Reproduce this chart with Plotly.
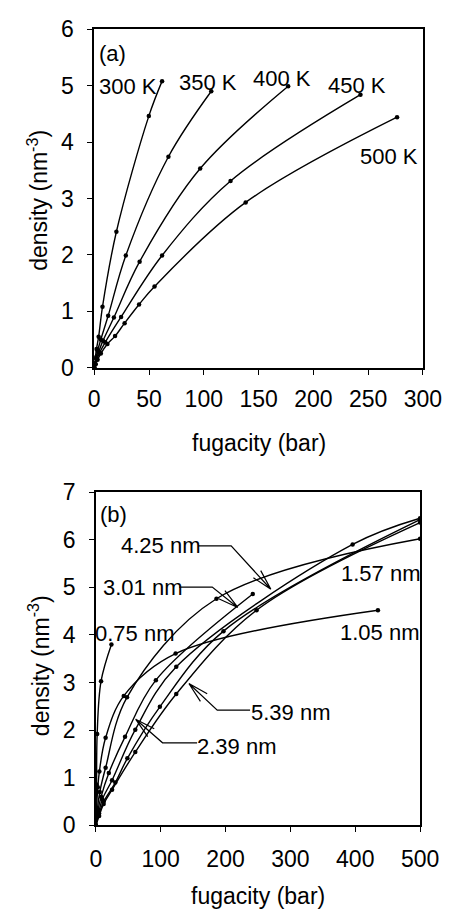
import math
import plotly.graph_objects as go

W, H = 463, 922

# ---------------- Panel (a): density vs fugacity at several temperatures
fug_300K = [0, 0.4, 1, 2, 4, 7.5, 20.2, 49.8, 61.9]
rho_300K = [0, 0.08, 0.18, 0.33, 0.55, 1.08, 2.41, 4.46, 5.08]
fug_350K = [0, 0.6, 1.5, 3, 6, 12.7, 28.8, 67.7, 106.8]
rho_350K = [0, 0.07, 0.17, 0.30, 0.50, 0.92, 1.99, 3.74, 4.90]
fug_400K = [0, 0.8, 2, 4, 8, 17.9, 41.4, 96.7, 177]
rho_400K = [0, 0.07, 0.16, 0.28, 0.48, 0.89, 1.88, 3.53, 4.99]
fug_450K = [0, 1, 2.5, 5, 10, 24.5, 61.9, 124.4, 243]
rho_450K = [0, 0.06, 0.15, 0.27, 0.45, 0.90, 1.99, 3.31, 4.84]
fug_500K = [0, 1.2, 3, 6, 12, 19, 27.7, 40.9, 55, 138.2, 276.4]
rho_500K = [0, 0.06, 0.14, 0.25, 0.42, 0.56, 0.79, 1.12, 1.44, 2.93, 4.44]

# ---------------- Panel (b): density vs fugacity for several pore widths
fug_075 = [0, 0.3, 1, 2, 8, 24]
rho_075 = [0, 0.36, 0.86, 1.92, 3.03, 3.80]
fug_105 = [0, 1, 3, 5.4, 15, 43, 123, 435]
rho_105 = [0, 0.35, 0.80, 1.13, 1.84, 2.72, 3.61, 4.52]
fug_157 = [0, 2, 6, 15, 48, 186, 500]
rho_157 = [0, 0.30, 0.70, 1.21, 2.69, 4.76, 6.02]
fug_239 = [0, 3, 8, 20, 45, 92.5, 242]
rho_239 = [0, 0.30, 0.60, 1.10, 1.86, 3.05, 4.86]
fug_301 = [0, 4, 10, 25, 60.8, 124, 396, 500]
rho_301 = [0, 0.25, 0.55, 0.95, 2.01, 3.33, 5.90, 6.45]
fug_425 = [0, 5, 12, 30, 48.6, 98.7, 196.8, 500]
rho_425 = [0, 0.25, 0.50, 0.90, 1.41, 2.49, 4.08, 6.42]
fug_539 = [0, 5, 12, 25, 60.8, 124, 247.8, 500]
rho_539 = [0, 0.20, 0.45, 0.75, 1.54, 2.76, 4.52, 6.36]

FONT = "Arial, Liberation Sans, sans-serif"
TICK_SIZE = 23
LABEL_SIZE = 22
TITLE_SIZE = 23

fig = go.Figure()

def add_curve(xs, ys, xa, ya):
    fig.add_trace(go.Scatter(
        x=xs, y=ys, xaxis=xa, yaxis=ya, mode="lines+markers",
        line=dict(color="black", width=1.4, shape="spline", smoothing=1.0),
        marker=dict(color="black", size=4.5), showlegend=False,
        hoverinfo="skip"))

for xs, ys in [(fug_300K, rho_300K), (fug_350K, rho_350K), (fug_400K, rho_400K),
               (fug_450K, rho_450K), (fug_500K, rho_500K)]:
    add_curve(xs, ys, "x", "y")

for xs, ys in [(fug_075, rho_075), (fug_105, rho_105), (fug_157, rho_157),
               (fug_239, rho_239), (fug_301, rho_301), (fug_425, rho_425),
               (fug_539, rho_539)]:
    add_curve(xs, ys, "x2", "y2")


def pp(px, py):
    return px / W, 1 - py / H


def axis_common():
    return dict(showline=True, mirror=True, linecolor="black", linewidth=1.6,
                ticks="outside", ticklen=5, tickwidth=1.3, tickcolor="black",
                showgrid=False, zeroline=False,
                tickfont=dict(family=FONT, size=TICK_SIZE, color="black"))

fig.update_layout(
    width=W, height=H, margin=dict(l=0, r=0, t=0, b=0),
    paper_bgcolor="white", plot_bgcolor="white",
    xaxis=dict(domain=[93.3 / W, 440.7 / W], range=[0, 300], dtick=50,
               anchor="y", ticklabelstandoff=5, **axis_common()),
    yaxis=dict(domain=[1 - 365 / H, 1 - 16.7 / H], range=[0, 6], dtick=1,
               anchor="x", ticklabelstandoff=9, **axis_common()),
    xaxis2=dict(domain=[95 / W, 437.7 / W], range=[0, 500], dtick=100,
                anchor="y2", ticklabelstandoff=7, **axis_common()),
    yaxis2=dict(domain=[1 - 836 / H, 1 - 493 / H], range=[0, 7], dtick=1,
                anchor="x2", ticklabelstandoff=9, **axis_common()),
)

annotations = []

def text(t, cx, cy, size=LABEL_SIZE, angle=0):
    x, y = pp(cx, cy)
    annotations.append(dict(text=t, x=x, y=y, xref="paper", yref="paper",
                            xanchor="center", yanchor="middle", showarrow=False,
                            textangle=angle,
                            font=dict(family=FONT, size=size, color="black")))

# axis titles
text("fugacity (bar)", 267, 442, size=TITLE_SIZE)
text("fugacity (bar)", 266, 909, size=TITLE_SIZE)
text("density (nm<sup>-3</sup>)", 33, 193, size=TITLE_SIZE, angle=-90)
text("density (nm<sup>-3</sup>)", 35, 672, size=TITLE_SIZE, angle=-90)

# panel (a) labels
text("(a)", 113, 42)
text("300 K", 129, 76)
text("350 K", 213.5, 72)
text("400 K", 291.5, 67)
text("450 K", 371.5, 75)
text("500 K", 405, 148)

# panel (b) labels
text("(b)", 114, 516)
text("4.25 nm", 164, 548)
text("3.01 nm", 144.5, 591)
text("0.75 nm", 136, 639)
text("1.57 nm", 396.5, 577)
text("1.05 nm", 395, 637)
text("5.39 nm", 301, 720)
text("2.39 nm", 244, 755)

fig.update_layout(annotations=annotations)

# leader lines with open V arrowheads (pixel geometry -> paper coords)
leaders = [
    [(203, 548.3), (238, 548.3), (280, 593)],
    [(183, 590.7), (218, 590.7), (245, 611.7)],
    [(258, 717.3), (223.3, 717.3), (193.3, 690)],
    [(202, 751), (165.5, 751), (137, 726.7)],
]
shapes = []
for pts in leaders:
    path = "M " + " L ".join("%f %f" % pp(*p) for p in pts)
    (x1, y1), (x2, y2) = pts[-2], pts[-1]
    ang = math.atan2(y1 - y2, x1 - x2)
    for d in (math.radians(14), -math.radians(14)):
        bx = x2 + 22 * math.cos(ang + d)
        by = y2 + 22 * math.sin(ang + d)
        path += " M %f %f L %f %f" % (*pp(x2, y2), *pp(bx, by))
    shapes.append(dict(type="path", path=path, xref="paper", yref="paper",
                       line=dict(color="black", width=1.2)))
fig.update_layout(shapes=shapes)

fig.write_html("out.html")
